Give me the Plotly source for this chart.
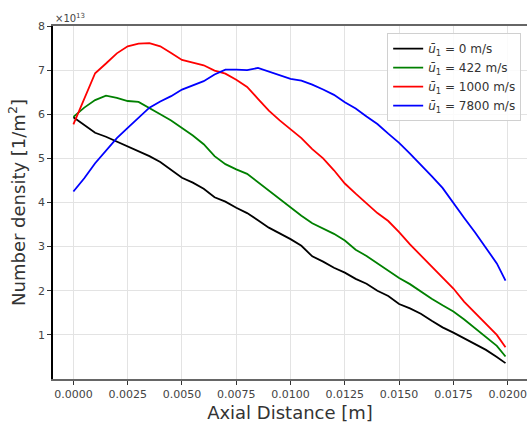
import plotly.graph_objects as go

# Axial positions [m]
x_pos = [0.0, 0.0005, 0.001, 0.0015, 0.002, 0.0025, 0.003, 0.0035, 0.004, 0.0045,
         0.005, 0.0055, 0.006, 0.0065, 0.007, 0.0075, 0.008, 0.0085, 0.009, 0.0095,
         0.010, 0.0105, 0.011, 0.0115, 0.012, 0.0125, 0.013, 0.0135, 0.014, 0.0145,
         0.015, 0.0155, 0.016, 0.0165, 0.017, 0.0175, 0.018, 0.0185, 0.019, 0.0195,
         0.0199]

# Number density in units of 1e13 1/m^2
n_u0 = [5.93, 5.75, 5.58, 5.49, 5.38, 5.27, 5.15, 5.05, 4.92, 4.73,
        4.56, 4.45, 4.31, 4.12, 4.02, 3.88, 3.76, 3.60, 3.43, 3.30,
        3.17, 3.02, 2.78, 2.66, 2.52, 2.41, 2.27, 2.16, 2.00, 1.88,
        1.70, 1.60, 1.48, 1.32, 1.17, 1.05, 0.92, 0.78, 0.66, 0.50,
        0.36]
n_u422 = [5.94, 6.15, 6.32, 6.42, 6.37, 6.30, 6.28, 6.13, 6.00, 5.86,
          5.69, 5.52, 5.32, 5.05, 4.87, 4.75, 4.65, 4.46, 4.26, 4.08,
          3.88, 3.70, 3.53, 3.41, 3.29, 3.14, 2.93, 2.79, 2.62, 2.45,
          2.29, 2.15, 1.98, 1.82, 1.67, 1.53, 1.35, 1.15, 0.95, 0.75,
          0.51]
n_u1000 = [5.77, 6.35, 6.93, 7.15, 7.38, 7.54, 7.60, 7.61, 7.54, 7.39,
           7.23, 7.17, 7.11, 6.99, 6.92, 6.78, 6.62, 6.35, 6.08, 5.86,
           5.66, 5.46, 5.21, 5.00, 4.73, 4.43, 4.20, 3.97, 3.76, 3.58,
           3.33, 3.05, 2.80, 2.55, 2.30, 2.05, 1.75, 1.50, 1.24, 1.00,
           0.72]
n_u7800 = [4.25, 4.55, 4.89, 5.18, 5.46, 5.69, 5.92, 6.15, 6.29, 6.41,
           6.56, 6.66, 6.75, 6.90, 7.01, 7.01, 7.00, 7.05, 6.97, 6.88,
           6.80, 6.76, 6.67, 6.56, 6.44, 6.27, 6.13, 5.95, 5.78, 5.56,
           5.35, 5.11, 4.86, 4.60, 4.33, 3.98, 3.65, 3.32, 2.98, 2.62,
           2.23]

series_labels = ["0", "422", "1000", "7800"]
series_values = [n_u0, n_u422, n_u1000, n_u7800]
series_colors = ["#000000", "#008000", "#ff0000", "#0000ff"]

x_ticks = [0.0, 0.0025, 0.005, 0.0075, 0.01, 0.0125, 0.015, 0.0175, 0.02]
x_ticklabels = ["0.0000", "0.0025", "0.0050", "0.0075", "0.0100",
                "0.0125", "0.0150", "0.0175", "0.0200"]
y_ticks = [1, 2, 3, 4, 5, 6, 7, 8]

FONT = "DejaVu Sans"

fig = go.Figure()
for lab, vals, col in zip(series_labels, series_values, series_colors):
    fig.add_trace(go.Scatter(
        x=x_pos, y=vals, mode="lines",
        line=dict(color=col, width=1.8),
        name=f"<i>ū</i><sub>1</sub> = {lab} m/s",
    ))

fig.update_layout(
    width=527, height=427,
    margin=dict(l=53, r=0, t=26, b=48),
    paper_bgcolor="white", plot_bgcolor="white",
    font=dict(family=FONT, color="#333333", size=11),
    showlegend=True,
    legend=dict(
        x=0.705, y=0.98, xanchor="left", yanchor="top",
        bgcolor="rgba(255,255,255,0.85)", bordercolor="#d0d0d0", borderwidth=1,
        font=dict(family=FONT, size=12, color="#333333"),
        tracegroupgap=0, itemwidth=30,
    ),
    xaxis=dict(
        range=[-0.00094, 0.02089],
        tickvals=x_ticks, ticktext=x_ticklabels,
        showgrid=True, gridcolor="#e3e3e3", gridwidth=1,
        zeroline=False,
        showline=True, linecolor="#666666", linewidth=1.6, mirror=True,
        ticks="outside", ticklen=4, tickcolor="#333333",
        tickfont=dict(family=FONT, size=11, color="#444444"),
        title=dict(text="Axial Distance [m]", font=dict(family=FONT, size=18, color="#333333"),
                   standoff=6),
    ),
    yaxis=dict(
        range=[0, 8],
        tickvals=y_ticks,
        showgrid=True, gridcolor="#e3e3e3", gridwidth=1,
        zeroline=False,
        showline=True, linecolor="#000000", linewidth=1.6,
        ticks="outside", ticklen=4, tickcolor="#333333",
        tickfont=dict(family=FONT, size=11, color="#444444"),
        title=dict(text="Number density [1/m<sup>2</sup>]",
                   font=dict(family=FONT, size=18, color="#333333"), standoff=8),
    ),
)

# Shared exponent of the y axis, drawn above the top-left corner
fig.add_annotation(
    xref="paper", yref="paper", x=0.0, y=1.0, xanchor="left", yanchor="bottom",
    text="×10<sup>13</sup>", showarrow=False,
    font=dict(family=FONT, size=10, color="#444444"),
)

fig.write_html("out.html")
